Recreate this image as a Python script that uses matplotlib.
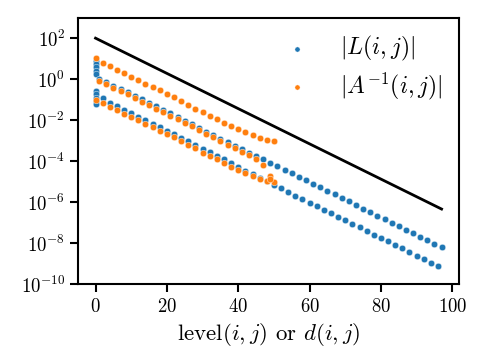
import numpy as np
import matplotlib
matplotlib.use("Agg")
import matplotlib.pyplot as plt

plt.rcParams["font.family"] = "serif"
plt.rcParams["font.serif"] = ["cmr10"]
plt.rcParams["mathtext.fontset"] = "cm"
plt.rcParams["axes.formatter.use_mathtext"] = True
plt.rcParams["axes.unicode_minus"] = False

# |L(i,j)| : log10 values
L_mid_x = list(range(1, 98, 2))
L_mid_log = [0.00, -0.12, -0.32, -0.46, -0.63, -0.80, -0.98, -1.14, -1.32, -1.50,
             -1.66, -1.84, -2.02, -2.18, -2.36, -2.55, -2.72, -2.90, -3.08, -3.24,
             -3.42, -3.58, -3.73, -3.89, -4.09, -4.25, -4.44, -4.59, -4.78, -4.93,
             -5.12, -5.27, -5.45, -5.61, -5.81, -5.94, -6.15, -6.33, -6.49, -6.68,
             -6.83, -7.02, -7.17, -7.36, -7.51, -7.70, -7.85, -8.04, -8.19]
L_low_x = list(range(2, 97, 2))
L_low_log = [-0.92, -1.14, -1.29, -1.48, -1.65, -1.82, -2.00, -2.17, -2.34, -2.51,
             -2.68, -2.86, -3.03, -3.20, -3.38, -3.55, -3.73, -3.90, -4.08, -4.26,
             -4.45, -4.64, -4.80, -4.97, -5.14, -5.32, -5.51, -5.68, -5.85, -6.05,
             -6.19, -6.37, -6.54, -6.73, -6.88, -7.07, -7.22, -7.41, -7.58, -7.75,
             -7.90, -8.09, -8.24, -8.43, -8.63, -8.77, -8.95, -9.11]
L_zero_x = [0] * 10
L_zero_log = [0.91, 0.74, 0.58, 0.42, 0.26, -0.58, -0.74, -0.91, -1.07, -1.23]

# |A^{-1}(i,j)|
A_top_x = list(range(0, 51, 2))
A_top_log = [1.01, 0.81, 0.62, 0.45, 0.28, 0.13, -0.06, -0.21, -0.40, -0.55,
             -0.74, -0.89, -1.07, -1.25, -1.43, -1.59, -1.79, -1.96, -2.13, -2.30,
             -2.45, -2.59, -2.74, -2.87, -2.95, -3.02]
A_mid_x = list(range(1, 50, 2))
A_mid_log = [-0.10, -0.24, -0.44, -0.58, -0.74, -0.92, -1.10, -1.27, -1.45, -1.62,
             -1.79, -1.96, -2.14, -2.30, -2.48, -2.68, -2.84, -3.02, -3.20, -3.36,
             -3.55, -3.71, -3.89, -4.17, -4.70]
A_low_x = list(range(0, 51, 2))
A_low_log = [-1.02, -1.14, -1.35, -1.51, -1.68, -1.86, -2.01, -2.16, -2.35, -2.52,
             -2.68, -2.84, -3.03, -3.20, -3.37, -3.58, -3.75, -3.91, -4.10, -4.26,
             -4.43, -4.59, -4.72, -4.88, -4.98, -5.03]
A_extra_x = [49]
A_extra_log = [-4.85]

# reference bound
bound_x = [0, 97]
bound_y = [1e2, 4.7e-7]

L_x = np.array(L_zero_x + L_mid_x + L_low_x)
L_y = 10.0 ** np.array(L_zero_log + L_mid_log + L_low_log)
A_x = np.array(A_top_x + A_mid_x + A_low_x + A_extra_x)
A_y = 10.0 ** np.array(A_top_log + A_mid_log + A_low_log + A_extra_log)

fig = plt.figure(figsize=(4.8, 3.6), dpi=100)
ax = fig.add_axes([0.163, 0.21, 0.793, 0.741])

ax.scatter(L_x, L_y, s=22, color="#1f77b4", edgecolor="white", linewidth=0.3,
           label=r"$|L(i,j)|$", zorder=2)
ax.scatter(A_x, A_y, s=22, color="#ff7f0e", edgecolor="white", linewidth=0.3,
           label=r"$|A^{-1}(i,j)|$", zorder=3)
ax.plot(bound_x, bound_y, color="black", lw=2, zorder=4)

ax.set_yscale("log")
ax.set_ylim(1e-10, 1e3)
ax.set_yticks([1e-10, 1e-8, 1e-6, 1e-4, 1e-2, 1e0, 1e2])
ax.minorticks_off()
ax.set_xticks([0, 20, 40, 60, 80, 100])
ax.set_xlabel(r"level$(i,j)$ or $d(i,j)$", fontsize=16.5)

for s in ax.spines.values():
    s.set_linewidth(1.5)
ax.tick_params(labelsize=13.5, length=6, width=1.5)

ax.legend(loc="upper right", frameon=False, fontsize=17, scatterpoints=1,
          markerscale=0.8, handletextpad=0.8, borderaxespad=0.3,
          labelspacing=0.3)

plt.savefig("out.png", dpi=100)
